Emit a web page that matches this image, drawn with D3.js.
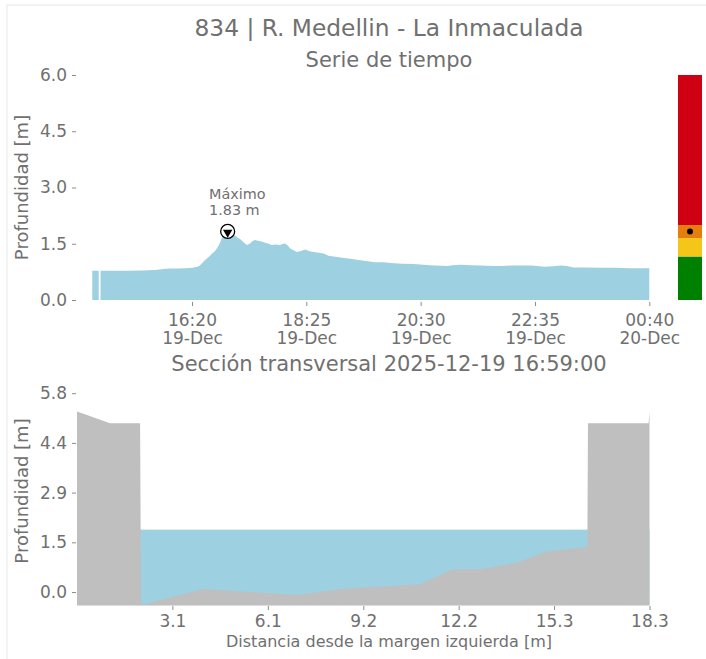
<!DOCTYPE html>
<html>
<head>
<meta charset="utf-8">
<script src="https://cdn.jsdelivr.net/npm/d3@7"></script>
<style>
body{margin:0;background:#fff;}
text{font-family:"DejaVu Sans",sans-serif;fill:#707070;}
</style>
</head>
<body>
<div id="chart"></div>
<script>
// time series: [clock time, depth m]; null = missing reading
const depthSeries = [
	["14:31",0.78],["14:38",0.78],["14:39",null],["14:40",0.78],["14:55",0.78],["15:10",0.78],
	["15:25",0.79],["15:40",0.80],["15:49",0.83],["15:55",0.84],["16:05",0.84],["16:13",0.85],
	["16:20",0.86],["16:25",0.88],["16:28",0.91],["16:31",0.98],["16:34",1.06],["16:37",1.12],
	["16:40",1.19],["16:42",1.24],["16:45",1.30],["16:47",1.37],["16:49",1.45],["16:51",1.55],
	["16:53",1.68],["16:55",1.72],["16:57",1.78],["16:59",1.83],["17:02",1.78],["17:05",1.76],
	["17:07",1.72],["17:10",1.66],["17:13",1.62],["17:16",1.55],["17:20",1.47],["17:23",1.50],
	["17:26",1.57],["17:29",1.60],["17:32",1.58],["17:36",1.56],["17:40",1.53],["17:44",1.50],
	["17:47",1.47],["17:51",1.48],["17:56",1.47],["18:00",1.50],["18:02",1.51],["18:05",1.45],
	["18:07",1.38],["18:10",1.34],["18:13",1.30],["18:15",1.28],["18:19",1.31],["18:24",1.35],
	["18:28",1.31],["18:31",1.29],["18:37",1.27],["18:44",1.24],["18:47",1.21],["18:49",1.18],
	["18:55",1.16],["19:04",1.13],["19:13",1.10],["19:22",1.07],["19:30",1.04],["19:40",1.01],
	["19:50",1.01],["19:57",0.99],["20:10",0.97],["20:22",0.96],["20:40",0.93],["20:59",0.91],
	["21:05",0.93],["21:13",0.94],["21:25",0.93],["21:35",0.92],["21:50",0.91],["22:00",0.91],
	["22:10",0.92],["22:19",0.92],["22:31",0.92],["22:40",0.90],["22:46",0.89],["22:55",0.90],
	["23:03",0.92],["23:10",0.91],["23:17",0.87],["23:30",0.87],["23:45",0.86],["00:02",0.86],
	["00:20",0.85],["00:40",0.85]
];
const timeTicks = ["16:20","18:25","20:30","22:35","00:40"];
const depthTicksTop = [0, 1.5, 3.0, 4.5, 6.0];

// alert levels (m) and colours for the side bar
const levelBreaks = [0, 1.16, 1.65, 2.0, 6.0];
const levelColors = ["#008000", "#f4c619", "#e67e0b", "#cf0011"];

// cross section: [distance m, elevation m]
const bedProfile = [
	[0,5.29],[1.06,4.95],[2.02,4.95],[2.05,-0.38],[4.05,0.09],[7.04,-0.09],[8.43,0.08],
	[9.23,0.13],[10.99,0.23],[12.01,0.66],[12.92,0.67],[14.09,0.86],[15.0,1.18],[16.34,1.33],
	[16.36,4.95],[18.30,4.95],[18.33,5.29]
];
const waterLevel = 1.83;
const distTicks = [3.055, 6.11, 9.165, 12.22, 15.275, 18.33];
const depthTicksBottom = [0, 1.4575, 2.915, 4.3725, 5.83];

const W = 706, H = 659;
const grey = "#707070", tickGrey = "#8c8c8c";
const water = "#9dd0e0", ground = "#bfbfbf";

const parseClock = function(s){
	const [h, m] = s.split(":").map(Number);
	// readings before 14:00 belong to the next day
	return new Date(2025, 11, h < 14 ? 20 : 19, h, m);
};
const series = depthSeries.map(d => ({t: parseClock(d[0]), v: d[1]}));

const svg = d3.select("#chart").append("svg")
	.attr("width", W).attr("height", H);

// faint frame of the figure
svg.append("rect").attr("x", 7).attr("y", 5).attr("width", 760).attr("height", 720)
	.attr("fill", "none").attr("stroke", "#e8e8e8");

// titles
svg.append("text").attr("x", 389).attr("y", 36).attr("text-anchor", "middle")
	.style("font-size", "23.3px").text("834 | R. Medellin - La Inmaculada");
svg.append("text").attr("x", 389).attr("y", 67).attr("text-anchor", "middle")
	.style("font-size", "21px").text("Serie de tiempo");
svg.append("text").attr("x", 389).attr("y", 371).attr("text-anchor", "middle")
	.style("font-size", "21px").text("Sección transversal 2025-12-19 16:59:00");

// ---------- top: time series ----------
const xTime = d3.scaleTime()
	.domain(d3.extent(series, d => d.t))
	.range([92.3, 649.3]);
const yTop = d3.scaleLinear().domain([0, 6]).range([300, 75]);

const area = d3.area()
	.defined(d => d.v !== null)
	.x(d => xTime(d.t))
	.y0(yTop(0))
	.y1(d => yTop(d.v));

svg.append("path").datum(series)
	.attr("d", area)
	.attr("fill", water);

svg.append("g")
	.attr("transform", "translate(76,0)")
	.call(d3.axisLeft(yTop).tickValues(depthTicksTop).tickFormat(d3.format(".1f")).tickSize(4).tickPadding(5));

const xAxisTop = svg.append("g")
	.attr("transform", "translate(0,302)")
	.call(d3.axisBottom(xTime).tickValues(timeTicks.map(parseClock)).tickSize(4).tickPadding(8));

xAxisTop.selectAll(".tick text").each(function(d){
	const t = d3.select(this).text(null);
	t.append("tspan").attr("x", 0).text(d3.timeFormat("%H:%M")(d));
	t.append("tspan").attr("x", 0).attr("dy", "1.08em").text(d3.timeFormat("%d-%b")(d));
});

svg.append("text")
	.attr("transform", `translate(28,${(yTop(0) + yTop(6)) / 2}) rotate(-90)`)
	.attr("text-anchor", "middle")
	.style("font-size", "18px")
	.text("Profundidad [m]");

// peak marker + label
const peak = series.reduce((a, b) => (b.v !== null && b.v > a.v ? b : a));
const px = xTime(peak.t), py = yTop(peak.v);
svg.append("circle").attr("cx", px).attr("cy", py).attr("r", 7)
	.attr("fill", "#fff").attr("stroke", "#000").attr("stroke-width", 1.3);
svg.append("path")
	.attr("d", d3.symbol(d3.symbolTriangle, 38)())
	.attr("transform", `translate(${px},${py + 1}) rotate(180)`)
	.attr("fill", "#000");
svg.append("text").attr("x", 209).attr("y", 199).style("font-size", "14.4px").text("Máximo");
svg.append("text").attr("x", 209).attr("y", 215).style("font-size", "14.4px")
	.text(peak.v.toFixed(2) + " m");

// alert level bar
const bar = svg.append("g");
levelColors.forEach(function(c, i){
	bar.append("rect")
		.attr("x", 678).attr("width", 24)
		.attr("y", yTop(levelBreaks[i + 1]))
		.attr("height", yTop(levelBreaks[i]) - yTop(levelBreaks[i + 1]))
		.attr("fill", c);
});
bar.append("circle").attr("cx", 690).attr("cy", yTop(peak.v)).attr("r", 3).attr("fill", "#000");

// ---------- bottom: cross section ----------
const xDist = d3.scaleLinear().domain([0, 18.33]).range([77, 649.5]);
const yBed = d3.scaleLinear().domain([-0.38, 5.83]).range([605, 393.2]);

svg.append("rect")
	.attr("x", xDist(0)).attr("width", xDist(18.33) - xDist(0))
	.attr("y", yBed(waterLevel)).attr("height", yBed(-0.38) - yBed(waterLevel))
	.attr("fill", water);

svg.append("path").datum(bedProfile)
	.attr("d", d3.area().x(d => xDist(d[0])).y0(yBed(-0.38)).y1(d => yBed(d[1])))
	.attr("fill", ground);

svg.append("line")
	.attr("x1", xDist(0)).attr("x2", xDist(18.33))
	.attr("y1", 605.5).attr("y2", 605.5)
	.attr("stroke", "#dcdcdc");

svg.append("g")
	.attr("transform", "translate(76,0)")
	.call(d3.axisLeft(yBed).tickValues(depthTicksBottom).tickFormat(d3.format(".1f")).tickSize(4).tickPadding(5));

svg.append("g")
	.attr("transform", "translate(0,606)")
	.call(d3.axisBottom(xDist).tickValues(distTicks).tickFormat(d3.format(".1f")).tickSize(4).tickPadding(5));

svg.append("text")
	.attr("transform", "translate(28,491) rotate(-90)")
	.attr("text-anchor", "middle")
	.style("font-size", "18px")
	.text("Profundidad [m]");

svg.append("text").attr("x", 389).attr("y", 647).attr("text-anchor", "middle")
	.style("font-size", "16px").text("Distancia desde la margen izquierda [m]");

// axis styling
svg.selectAll(".domain").remove();
svg.selectAll(".tick line").attr("stroke", tickGrey);
svg.selectAll(".tick text").attr("fill", grey).style("font-size", "17px")
	.style("font-family", "'DejaVu Sans', sans-serif");
</script>
</body>
</html>
